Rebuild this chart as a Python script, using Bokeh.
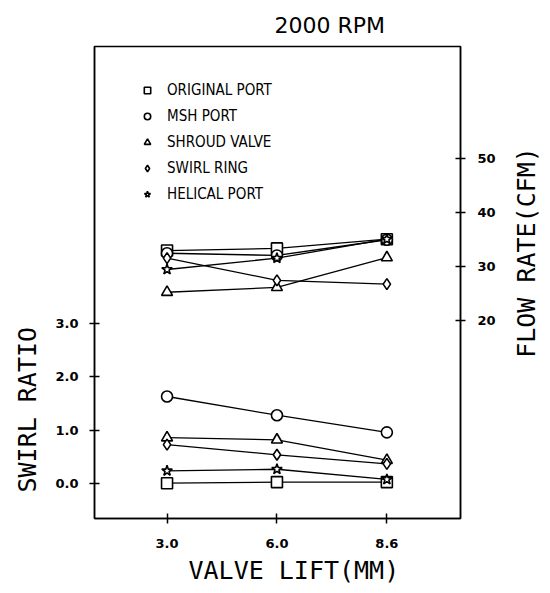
import math
from bokeh.plotting import figure
from bokeh.models import (Range1d, LinearAxis, FixedTicker, Title, Legend,
                          LegendItem, PrintfTickFormatter, Label)
from bokeh.embed import file_html
from bokeh.resources import INLINE

# ---------------- data ----------------
valve_lift = ["3.0", "6.0", "8.6"]
series_names = ["ORIGINAL PORT", "MSH PORT", "SHROUD VALVE", "SWIRL RING", "HELICAL PORT"]
markers = ["square", "circle", "triangle", "diamond", "star"]

swirl_original = [0.01, 0.03, 0.03]
swirl_msh = [1.63, 1.28, 0.96]
swirl_shroud = [0.86, 0.82, 0.44]
swirl_ring = [0.73, 0.54, 0.37]
swirl_helical = [0.24, 0.27, 0.08]

flow_original = [32.9, 33.3, 35.0]
flow_msh = [32.4, 32.0, 34.9]
flow_shroud = [25.2, 26.1, 31.6]
flow_ring = [31.5, 27.4, 26.7]
flow_helical = [29.4, 31.5, 35.0]

swirl_ticks = [0, 1, 2, 3]
flow_ticks = [20, 30, 40, 50]

swirl_series = [swirl_original, swirl_msh, swirl_shroud, swirl_ring, swirl_helical]
flow_series = [flow_original, flow_msh, flow_shroud, flow_ring, flow_helical]
x_pos = list(range(len(valve_lift)))

# ---------------- figure ----------------
p = figure(frame_width=366, frame_height=472,
           min_border_left=94, min_border_right=90,
           min_border_top=46, min_border_bottom=67,
           x_range=Range1d(-0.66, 2.67), y_range=Range1d(-0.65, 8.17),
           output_backend="svg", toolbar_location=None)
p.extra_y_ranges = {"flow": Range1d(-16.6, 70.6)}

p.xgrid.visible = False
p.ygrid.visible = False
p.outline_line_color = "black"
p.outline_line_width = 1.5
p.outline_line_alpha = 1.0
p.background_fill_color = "white"
p.border_fill_color = "white"

TICK_FONT = "DejaVu Sans"
LABEL_FONT = "DejaVu Sans Mono"

def style_axis(ax):
    ax.axis_line_width = 1.5
    ax.axis_line_color = "black"
    ax.major_tick_in = 5
    ax.major_tick_out = 5
    ax.major_tick_line_width = 1.5
    ax.minor_tick_line_color = None
    ax.major_label_text_font = TICK_FONT
    ax.major_label_text_font_size = "13px"
    ax.major_label_text_font_style = "bold"
    ax.major_label_text_color = "black"

# bottom axis
xa = p.xaxis[0]
xa.ticker = FixedTicker(ticks=x_pos)
xa.major_label_overrides = {i: lab for i, lab in zip(x_pos, valve_lift)}
style_axis(xa)
xa.major_label_standoff = 15

# left axis
ya = p.yaxis[0]
ya.ticker = FixedTicker(ticks=swirl_ticks)
ya.formatter = PrintfTickFormatter(format="%.1f")
style_axis(ya)
ya.major_label_standoff = 11

# right axis
ra = LinearAxis(y_range_name="flow", ticker=FixedTicker(ticks=flow_ticks))
style_axis(ra)
ra.major_label_standoff = 12
p.add_layout(ra, "right")

# ---------------- series ----------------
legend_items = []
for name, mk, sw, fl in zip(series_names, markers, swirl_series, flow_series):
    p.line(x_pos, sw, line_color="black", line_width=1.3)
    p.line(x_pos, fl, line_color="black", line_width=1.3, y_range_name="flow")
    r = p.scatter(x_pos, sw, marker=mk, size=11, fill_color="white",
                  line_color="black", line_width=1.6)
    p.scatter(x_pos, fl, marker=mk, size=11, fill_color="white",
              line_color="black", line_width=1.6, y_range_name="flow")
    legend_items.append(LegendItem(label=name, renderers=[r]))

legend = Legend(items=legend_items, location=(45, 315),
                border_line_color=None, background_fill_alpha=0,
                padding=0, margin=0, spacing=8,
                glyph_width=16, glyph_height=16, label_height=16,
                label_standoff=12,
                label_text_font="DejaVu Sans Condensed",
                label_text_font_size="15px",
                label_text_color="black")
p.add_layout(legend)

# ---------------- titles ----------------
def make_title(text, offset, standoff, font, size):
    return Title(text=text, align="left", offset=offset, standoff=standoff,
                 text_font=font, text_font_size=size,
                 text_font_style="normal", text_color="black")

p.add_layout(make_title("2000 RPM", 180, 18, "DejaVu Sans", "22px"), "above")
p.add_layout(make_title("VALVE LIFT(MM)", 94, 6, LABEL_FONT, "25px"), "below")
p.add_layout(make_title("SWIRL RATIO", 26, 21, LABEL_FONT, "25px"), "left")

# right-hand label, reading bottom-to-top, in a side panel
flow_label = Label(x=28, y=266, x_units="screen", y_units="screen",
                   text="FLOW RATE(CFM)", angle=math.pi / 2,
                   text_align="center", text_baseline="middle",
                   text_font=LABEL_FONT, text_font_size="25px", text_color="black")
p.add_layout(flow_label, "right")

open("out.html", "w").write(file_html(p, INLINE))
